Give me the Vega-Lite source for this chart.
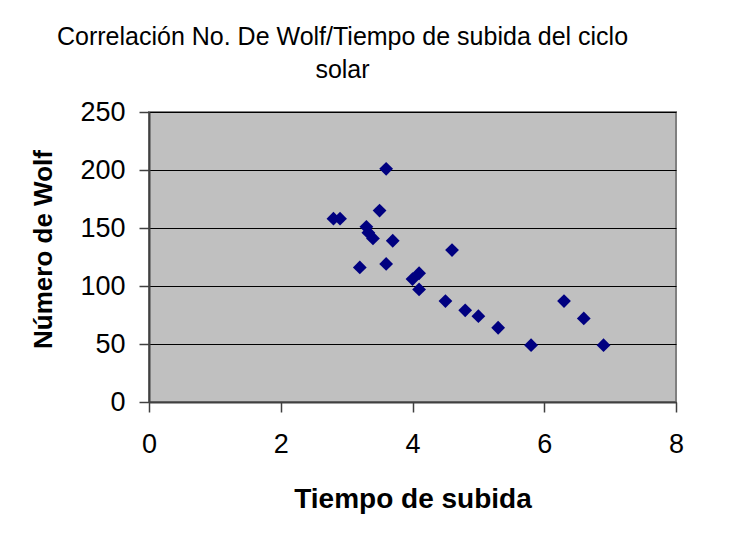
{
  "$schema": "https://vega.github.io/schema/vega-lite/v6.json",
  "width": 527,
  "height": 290,
  "autosize": {"type": "none"},
  "padding": {"left": 149, "top": 112, "right": 55, "bottom": 132},
  "background": "white",
  "title": {
    "text": ["Correlación No. De Wolf/Tiempo de subida del ciclo", "solar"],
    "font": "Liberation Sans",
    "fontSize": 25,
    "fontWeight": "normal",
    "color": "black",
    "anchor": "middle",
    "frame": "group",
    "dx": -70,
    "lineHeight": 33,
    "offset": 15
  },
  "data": {
    "values": [
      {"tiempo": 2.8, "wolf": 158},
      {"tiempo": 2.9, "wolf": 158},
      {"tiempo": 3.2, "wolf": 116},
      {"tiempo": 3.3, "wolf": 151},
      {"tiempo": 3.33, "wolf": 146},
      {"tiempo": 3.4, "wolf": 141},
      {"tiempo": 3.5, "wolf": 165},
      {"tiempo": 3.6, "wolf": 201},
      {"tiempo": 3.6, "wolf": 119},
      {"tiempo": 3.7, "wolf": 139},
      {"tiempo": 4.0, "wolf": 106},
      {"tiempo": 4.1, "wolf": 111},
      {"tiempo": 4.1, "wolf": 97},
      {"tiempo": 4.5, "wolf": 87},
      {"tiempo": 4.6, "wolf": 131},
      {"tiempo": 4.8, "wolf": 79},
      {"tiempo": 5.0, "wolf": 74},
      {"tiempo": 5.3, "wolf": 64},
      {"tiempo": 5.8, "wolf": 49},
      {"tiempo": 6.3, "wolf": 87},
      {"tiempo": 6.6, "wolf": 72},
      {"tiempo": 6.9, "wolf": 49}
    ]
  },
  "mark": {"type": "point", "shape": "diamond", "filled": true, "color": "#000080", "size": 190, "opacity": 1},
  "encoding": {
    "x": {
      "field": "tiempo",
      "type": "quantitative",
      "scale": {"domain": [0, 8], "nice": false, "zero": false},
      "axis": {
        "title": "Tiempo de subida",
        "values": [0, 2, 4, 6, 8],
        "grid": false,
        "format": "d",
        "labelFlush": false,
        "titleFontSize": 28,
        "titleFontWeight": "bold",
        "titlePadding": 28,
        "labelFontSize": 27,
        "labelPadding": 19,
        "tickSize": 10
      }
    },
    "y": {
      "field": "wolf",
      "type": "quantitative",
      "scale": {"domain": [0, 250], "nice": false},
      "axis": {
        "title": "Número de Wolf",
        "values": [0, 50, 100, 150, 200, 250],
        "grid": true,
        "gridColor": "black",
        "gridOpacity": 1,
        "gridWidth": 1.2,
        "titleFontSize": 26,
        "titleFontWeight": "bold",
        "titlePadding": 23,
        "titleY": 137,
        "labelFontSize": 27,
        "labelPadding": 14,
        "labelFlush": false,
        "tickSize": 10
      }
    }
  },
  "config": {
    "font": "Liberation Sans",
    "view": {"fill": "#C0C0C0", "stroke": "#808080", "strokeWidth": 2},
    "axis": {
      "labelFont": "Liberation Sans",
      "titleFont": "Liberation Sans",
      "labelColor": "black",
      "titleColor": "black",
      "domainColor": "#404040",
      "domainWidth": 2,
      "tickColor": "#404040",
      "tickWidth": 1.5
    }
  }
}
